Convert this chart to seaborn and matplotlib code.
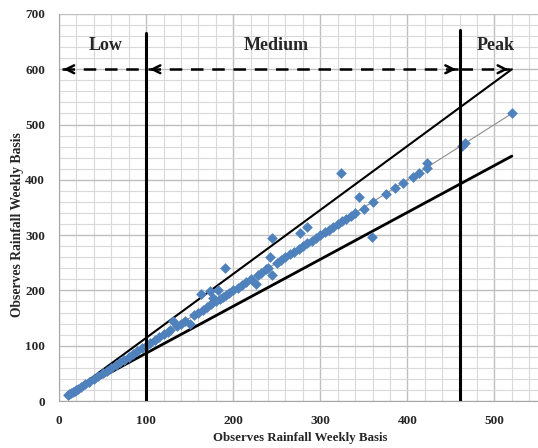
import matplotlib
matplotlib.use("Agg")
import matplotlib.pyplot as plt
import numpy as np
import pandas as pd
import seaborn as sns
from matplotlib.ticker import MultipleLocator

x_obs = [10, 12, 14, 16, 18, 20, 22, 25, 30, 35, 40, 45, 50, 55, 60, 65, 70, 75,
         80, 85, 90, 95, 100, 105, 110, 115, 120, 125, 128, 131, 135, 140, 145,
         150, 155, 160, 163, 165, 170, 173, 175, 177, 180, 182, 185, 188, 191, 192,
         195, 200, 205, 210, 215, 220, 226, 228, 232, 238, 240, 242, 245, 245, 250,
         255, 260, 265, 270, 275, 277, 280, 285, 285, 290, 295, 300, 305, 310, 315,
         320, 324, 325, 330, 335, 340, 344, 350, 359, 361, 375, 386, 395, 407, 413,
         422, 423, 463, 466, 520]
y_sim = [10, 12, 15, 16, 18, 20, 22, 25, 30, 35, 40, 45, 50, 55, 60, 65, 70, 75,
         80, 85, 90, 95, 100, 105, 110, 115, 122, 125, 128, 145, 135, 140, 145,
         139, 155, 160, 193, 165, 170, 199, 175, 186, 180, 201, 185, 188, 240, 192,
         195, 200, 205, 210, 215, 220, 212, 228, 232, 238, 240, 260, 228, 295, 250,
         255, 260, 265, 270, 275, 304, 280, 285, 314, 290, 295, 300, 305, 310, 315,
         320, 413, 325, 330, 335, 340, 369, 348, 296, 360, 375, 386, 395, 405, 412,
         431, 422, 462, 466, 521]

# reference lines: 1:1, +15 % and -15 % bounds
line_x = [10, 520]
one_to_one = [10, 520]
upper_bound = [10, 600]
lower_bound = [10, 443]

# rainfall classes
class_names = ["Low", "Medium", "Peak"]
class_label_x = [53, 249, 501]
class_breaks = [100, 460]

df = pd.DataFrame({"obs": x_obs, "sim": y_sim})

sns.set_style("whitegrid")
plt.rcParams["font.family"] = ["Liberation Serif", "DejaVu Serif"]
plt.rcParams["font.weight"] = "bold"

fig = plt.figure(figsize=(5.38, 4.48), dpi=100)
ax = fig.add_axes([0.1097, 0.1049, 0.8903, 0.8639])

ax.plot(line_x, one_to_one, color="#8c8c8c", lw=0.8, zorder=2)
ax.plot(line_x, upper_bound, color="black", lw=1.5, zorder=2)
ax.plot(line_x, lower_bound, color="black", lw=2.0, zorder=2)

sns.scatterplot(data=df, x="obs", y="sim", marker="D", s=30, color="#4F81BD",
                edgecolor="#4F81BD", linewidth=0, ax=ax, zorder=3)

# class boundaries
ax.plot([class_breaks[0], class_breaks[0]], [0, 665], color="black", lw=2.2, zorder=4)
ax.plot([class_breaks[1], class_breaks[1]], [0, 671], color="black", lw=2.2, zorder=4)

# dashed arrows at y=600
y_arr = 600
dash = (0, (5, 3.5))
ax.plot([3, class_breaks[0]], [y_arr, y_arr], color="black", lw=1.8, ls=dash, zorder=4)
ax.plot([class_breaks[0] + 2, class_breaks[1] - 2], [y_arr, y_arr], color="black", lw=1.8,
        ls=dash, zorder=4)
ax.plot([class_breaks[1], 518], [y_arr, y_arr], color="black", lw=1.8, ls=dash, zorder=4)
head = dict(arrowstyle="->", color="black", lw=1.8, mutation_scale=14)
for start, end in [(12, 2), (112, 101), (448, 459), (508, 519)]:
    ax.annotate("", xy=(end, y_arr), xytext=(start, y_arr), arrowprops=head, zorder=5)

for name, xpos in zip(class_names, class_label_x):
    ax.text(xpos, 643, name, ha="center", va="center", fontsize=13, fontweight="bold")

ax.set_xlim(0, 550)
ax.set_ylim(0, 700)
ax.xaxis.set_major_locator(MultipleLocator(100))
ax.yaxis.set_major_locator(MultipleLocator(100))
ax.xaxis.set_minor_locator(MultipleLocator(20))
ax.yaxis.set_minor_locator(MultipleLocator(20))
ax.grid(which="major", color="#bfbfbf", lw=1.0)
ax.grid(which="minor", color="#d9d9d9", lw=0.8)
ax.set_axisbelow(True)

for side in ["top", "right"]:
    ax.spines[side].set_visible(False)
ax.spines["left"].set_color("#a6a6a6")
ax.spines["bottom"].set_color("#a6a6a6")
ax.tick_params(axis="both", which="major", labelsize=9.5, length=4, color="#a6a6a6",
               direction="out", pad=6)
ax.tick_params(axis="both", which="minor", length=0)
for lab in ax.get_xticklabels() + ax.get_yticklabels():
    lab.set_fontweight("bold")

ax.set_xlabel("Observes Rainfall Weekly Basis", fontsize=9.3, fontweight="bold", va="center")
ax.set_ylabel("Observes Rainfall Weekly Basis", fontsize=9.8, fontweight="bold", va="center")
ax.xaxis.set_label_coords(0.503, -0.095)
ax.yaxis.set_label_coords(-0.086, 0.456)

fig.savefig("out.png", dpi=100)
